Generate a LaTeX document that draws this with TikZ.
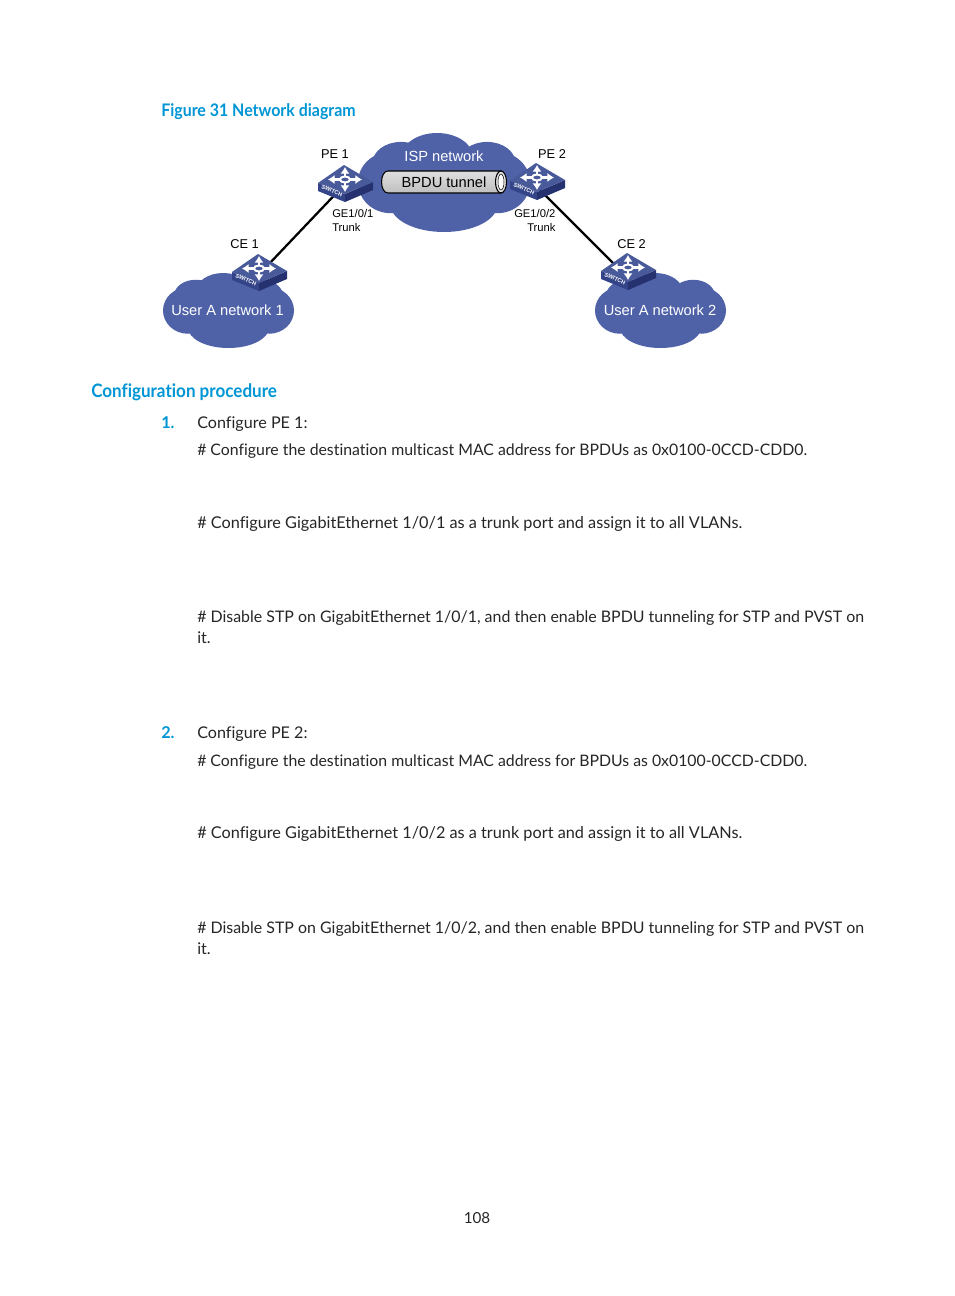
\documentclass[tikz,border=0pt]{standalone}
\usepackage{fontspec}
\setmainfont{Lato}[Ligatures=NoCommon]
\newfontfamily\figfont{Liberation Sans}
\newfontfamily\headfont{Lato}[FakeStretch=0.92,Ligatures=NoCommon]
\definecolor{cloudblue}{RGB}{79,98,168}
\definecolor{headblue}{RGB}{0,150,214}
\definecolor{sidedark}{RGB}{38,50,112}
\definecolor{sidemid}{RGB}{52,68,136}
\tikzset{
	bodytext/.style={anchor=base west,inner sep=0pt,font=\fontsize{#1}{14}\selectfont,text=black!85},
	bodytext/.default=12.1,
	numtext/.style={anchor=base west,inner sep=0pt,font=\fontsize{12.2}{14}\selectfont\bfseries,text=headblue},
	figlabel/.style={inner sep=0pt,font=\figfont\fontsize{9.6}{11}\selectfont},
	portlabel/.style={inner sep=0pt,align=center,font=\figfont\fontsize{8.4}{10.2}\selectfont},
	cloudlabel/.style={inner sep=0pt,text=white,font=\figfont\fontsize{11}{13}\selectfont},
	switchnode/.style={inner sep=0pt,minimum size=2pt},
	crossarrow/.style={white,line width=1.9pt,-{Latex[length=5pt,width=7pt]}},
}
% cloud: centre x, centre y, half width, half height
\newcommand{\bluecloud}[4]{
	\begin{scope}[shift={(#1,#2)},x=#3*0.75pt,y=-#4*0.75pt]
	\fill[cloudblue] (0,0) ellipse [x radius=0.8,y radius=0.7];
	\fill[cloudblue] (-0.62,0) ellipse [x radius=0.38,y radius=0.62];
	\fill[cloudblue] (0.62,0) ellipse [x radius=0.38,y radius=0.62];
	\fill[cloudblue] (0,0.45) ellipse [x radius=0.62,y radius=0.55];
	\fill[cloudblue] (-0.08,-0.5) ellipse [x radius=0.42,y radius=0.5];
	\fill[cloudblue] (-0.5,-0.4) ellipse [x radius=0.33,y radius=0.42];
	\fill[cloudblue] (0.5,-0.4) ellipse [x radius=0.33,y radius=0.42];
	\end{scope}
}
% switch body drawn round a named node
\newcommand{\switchicon}[3]{
	\node[switchnode] (#1) at (#2,#3) {};
	\begin{scope}[shift={(#2,#3)}]
	\fill[sidemid] (-27,0) -- (0,11) -- (0,19) -- (-27,8) -- cycle;
	\fill[sidedark] (0,11) -- (28,-1) -- (28,7) -- (0,19) -- cycle;
	\fill[cloudblue!92!black] (-27,0) -- (-1,-18) -- (28,-1) -- (0,11) -- cycle;
	\foreach \a in {-17,17}
		\draw[crossarrow] (\a*0.3,-3.5) -- (\a,-3.5);
	\foreach \b in {-12.5,12.5}
		\draw[crossarrow] (0,-3.5+\b*0.3) -- (0,-3.5+\b);
	\draw[white,line width=1.5pt,fill=cloudblue!92!black] (0,-3.5) ellipse [x radius=5,y radius=3];
	\node[inner sep=0pt,rotate=-24,text=white,font=\figfont\bfseries\fontsize{4.2}{5}\selectfont] (#1tag) at (-13,8) {SWITCH};
	\end{scope}
}
\usetikzlibrary{arrows.meta}
\begin{document}
\begin{tikzpicture}[x=0.75pt,y=-0.75pt]
	\fill[white] (0,0) rectangle (954,1296);

	% headings
	\node[anchor=base west,inner sep=0pt,text=headblue,font=\headfont\fontsize{13}{14}\selectfont\bfseries] (figcaption) at (161,116) {Figure 31 Network diagram};
	\node[anchor=base west,inner sep=0pt,text=headblue,font=\headfont\fontsize{13.9}{16}\selectfont\bfseries] (confighead) at (91,397) {Configuration procedure};

	% clouds
	\bluecloud{444}{182.5}{86}{49.5}
	\bluecloud{228.5}{310.5}{65.5}{37.5}
	\bluecloud{660.5}{310.5}{65.5}{37.5}

	% tunnel
	\shade[top color=gray!25,bottom color=gray!50,draw=black,thick] (501,171) -- (388,171) to[out=180,in=180,looseness=1] (388,193) -- (501,193) -- cycle;
	\draw[thick,fill=gray!20] (501,182) ellipse [x radius=5.5,y radius=11];
	\draw[fill=white] (501,182) ellipse [x radius=3,y radius=8];

	% switches
	\node[switchnode] (pe1) at (345,184) {};
	\node[switchnode] (pe2) at (533,183) {};
	\node[switchnode] (ce1) at (259,274.5) {};
	\node[switchnode] (ce2) at (622,272) {};
	\draw[line width=1.7pt] (pe1) -- (ce1);
	\draw[line width=1.7pt] (pe2) -- (ce2);
	\switchicon{pe1i}{345}{183}
	\switchicon{pe2i}{537}{181}
	\switchicon{ce1i}{259}{272}
	\switchicon{ce2i}{628}{271}

	% diagram labels
	\node[cloudlabel] (isp) at (444,156) {ISP network};
	\node[inner sep=0pt,font=\figfont\fontsize{11}{13}\selectfont] (tunnel) at (444,182) {BPDU tunnel};
	\node[cloudlabel] (usera1) at (227.5,310) {User A network 1};
	\node[cloudlabel] (usera2) at (660,310) {User A network 2};
	\node[figlabel] (pe1label) at (335,154) {PE 1};
	\node[figlabel] (pe2label) at (552,154) {PE 2};
	\node[figlabel] (ce1label) at (244.5,244) {CE 1};
	\node[figlabel] (ce2label) at (631.5,244) {CE 2};
	\node[portlabel,anchor=north west] (port1) at (332,209) {GE1/0/1};
	\node[portlabel,anchor=north west] (trunk1) at (332,223) {Trunk};
	\node[portlabel,anchor=north west] (port2) at (514,209) {GE1/0/2};
	\node[portlabel,anchor=north west] (trunk2) at (527,223) {Trunk};

	% page text
	\node[numtext] (num1) at (161,428) {1.};
	\node[bodytext] (pe1head) at (197,428) {Configure PE 1:};
	\node[bodytext=11.87] (pe1mac) at (197,455) {\# Configure the destination multicast MAC address for BPDUs as 0x0100-0CCD-CDD0.};
	\node[bodytext=12.2] (pe1trunk) at (197,528) {\# Configure GigabitEthernet 1/0/1 as a trunk port and assign it to all VLANs.};
	\node[bodytext=11.95] (pe1stp) at (197,622) {\# Disable STP on GigabitEthernet 1/0/1, and then enable BPDU tunneling for STP and PVST on};
	\node[bodytext] (pe1it) at (197,643) {it.};
	\node[numtext] (num2) at (161,738) {2.};
	\node[bodytext] (pe2head) at (197,738) {Configure PE 2:};
	\node[bodytext=11.87] (pe2mac) at (197,766) {\# Configure the destination multicast MAC address for BPDUs as 0x0100-0CCD-CDD0.};
	\node[bodytext=12.2] (pe2trunk) at (197,838) {\# Configure GigabitEthernet 1/0/2 as a trunk port and assign it to all VLANs.};
	\node[bodytext=11.95] (pe2stp) at (197,933) {\# Disable STP on GigabitEthernet 1/0/2, and then enable BPDU tunneling for STP and PVST on};
	\node[bodytext] (pe2it) at (197,954) {it.};
	\node[bodytext=11.4,anchor=base] (pagenum) at (477,1223) {108};
\end{tikzpicture}
\end{document}
